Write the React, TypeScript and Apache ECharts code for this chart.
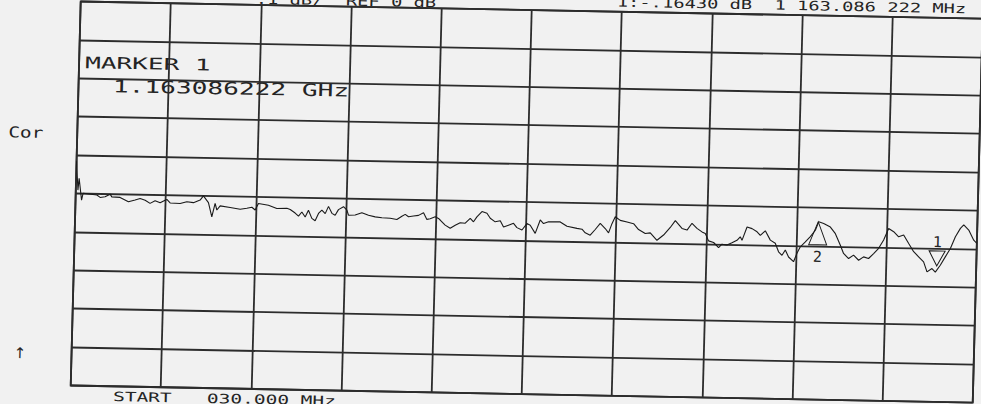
import React, { useEffect, useRef } from "react";
import * as echarts from "echarts";

// Trace: frequency (MHz) and transmission (dB)
const freqMHz = [
  30.0, 32.8, 34.0, 37.9, 39.7, 57.8, 62.2, 68.7, 75.2, 77.5, 88.4, 99.5, 108.2, 114.8, 121.4, 128.0,
  134.5, 141.2, 147.6, 149.9, 154.3, 167.5, 176.2, 184.9, 193.6, 197.8, 204.6, 209.5, 213.4, 215.9,
  220.1, 233.3, 246.5, 255.2, 261.8, 266.2, 270.3, 283.5, 294.6, 307.8, 312.2, 318.8, 323.3, 327.6,
  332.1, 336.2, 340.9, 345.3, 349.5, 353.8, 358.3, 362.4, 367.1, 371.4, 375.6, 382.1, 386.7, 388.9,
  397.7, 406.4, 415.2, 424.0, 432.9, 443.8, 452.6, 459.1, 463.4, 467.8, 474.3, 480.9, 487.4, 492.0,
  496.3, 502.9, 507.2, 509.5, 516.2, 522.9, 529.4, 535.9, 542.5, 548.9, 553.3, 557.6, 564.1, 570.7,
  575.2, 581.8, 588.4, 592.9, 599.4, 605.9, 610.5, 617.2, 623.5, 627.9, 634.7, 640.9, 645.3, 651.9,
  667.2, 676.2, 689.4, 696.0, 700.4, 707.0, 713.4, 719.8, 726.5, 731.0, 735.2, 739.3, 746.0, 754.9,
  763.6, 770.3, 779.2, 785.8, 794.8, 803.3, 811.9, 818.3, 827.3, 834.0, 840.3, 847.0, 853.7, 858.1,
  862.6, 869.3, 876.0, 880.3, 886.9, 893.4, 899.9, 904.1, 906.5, 912.7, 919.3, 926.0, 930.4, 936.8,
  943.7, 950.3, 954.9, 959.5, 963.7, 968.2, 974.9, 979.1, 983.3, 989.7, 996.1, 1002.5, 1006.6, 1013.2,
  1022.1, 1028.9, 1035.8, 1040.3, 1047.1, 1053.5, 1060.3, 1066.7, 1073.3, 1079.8, 1086.2, 1092.5,
  1098.7, 1105.4, 1112.1, 1118.6, 1125.5, 1132.3, 1139.0, 1145.7, 1150.5, 1156.9, 1161.4, 1167.7,
  1174.0, 1180.4, 1186.6, 1192.9, 1197.2, 1203.9, 1210.8, 1215.0,
];
const traceDb = [
  0.084, 0.009, 0.04, -0.017, 0.001, -0.003, -0.009, -0.007, 0.0, -0.007, -0.008, -0.019, -0.014, -0.01,
  -0.014, -0.022, -0.015, -0.02, -0.013, -0.011, -0.02, -0.021, -0.016, -0.018, -0.011, 0.0, -0.017,
  -0.054, -0.019, -0.036, -0.025, -0.029, -0.033, -0.03, -0.027, -0.034, -0.017, -0.021, -0.029, -0.028,
  -0.031, -0.04, -0.048, -0.037, -0.05, -0.032, -0.053, -0.059, -0.04, -0.031, -0.04, -0.021, -0.039,
  -0.044, -0.029, -0.021, -0.03, -0.043, -0.042, -0.036, -0.042, -0.046, -0.048, -0.049, -0.052, -0.043,
  -0.038, -0.044, -0.042, -0.04, -0.033, -0.05, -0.048, -0.043, -0.047, -0.051, -0.064, -0.072, -0.064,
  -0.057, -0.058, -0.045, -0.054, -0.041, -0.027, -0.031, -0.044, -0.053, -0.05, -0.066, -0.061, -0.056,
  -0.067, -0.073, -0.056, -0.06, -0.081, -0.046, -0.055, -0.05, -0.05, -0.061, -0.066, -0.068, -0.077,
  -0.083, -0.068, -0.052, -0.065, -0.076, -0.052, -0.034, -0.043, -0.047, -0.051, -0.066, -0.076, -0.074,
  -0.093, -0.079, -0.059, -0.041, -0.061, -0.065, -0.047, -0.06, -0.069, -0.073, -0.092, -0.096, -0.109,
  -0.1, -0.102, -0.096, -0.089, -0.08, -0.089, -0.054, -0.058, -0.066, -0.075, -0.063, -0.087, -0.095,
  -0.117, -0.126, -0.112, -0.13, -0.142, -0.12, -0.103, -0.09, -0.076, -0.059, -0.037, -0.041, -0.05,
  -0.067, -0.097, -0.118, -0.131, -0.122, -0.135, -0.126, -0.13, -0.117, -0.103, -0.081, -0.051, -0.059,
  -0.072, -0.067, -0.089, -0.11, -0.123, -0.136, -0.162, -0.153, -0.162, -0.144, -0.122, -0.1, -0.069,
  -0.047, -0.038, -0.051, -0.077, -0.085,
];

// Markers
const markerFreq = [1163.086, 1006.0];
const markerDb = [-0.1643, -0.037];
const markerLabels = ["1", "2"];

// Axis scale (no tick labels are printed on the plot)
const freqStart = 30;
const freqStop = 1215;
const dbMin = -0.5;
const dbMax = 0.5;
const dbPerDiv = 0.1;
const xDivisions = 10;

// Annotation texts
const headerLeft = ".1 dB/  REF 0 dB";
const headerRight = "1:-.16430 dB  1 163.086 222 MHz";
const markerTitle = "MARKER 1";
const markerFreqText = "1.163086222 GHz";
const startText = "START   030.000 MHz";
const corText = "Cor";
const arrowText = "\u2191";

const INK = "#242424";
const GRID = "#2c2c2c";
const MONO = '"DejaVu Sans Mono", "Liberation Mono", monospace';

export default function App() {
  const ref = useRef<HTMLDivElement>(null);

  useEffect(() => {
    if (!ref.current) return;
    const chart = echarts.init(ref.current, null, { renderer: "svg" });
    const data = freqMHz.map((f, i) => [f, traceDb[i]]);

    const txt = (
      text: string,
      x: number,
      y: number,
      size: number,
      scaleX: number
    ) => ({
      type: "text",
      x,
      y,
      scaleX,
      originX: 0,
      originY: 0,
      silent: true,
      style: {
        text,
        x: 0,
        y: 0,
        font: `${size}px ${MONO}`,
        fill: INK,
        textAlign: "left",
        textVerticalAlign: "middle",
        verticalAlign: "middle",
      },
    });

    chart.setOption({
      animation: false,
      backgroundColor: "transparent",
      grid: {
        left: 100,
        top: 30,
        width: 902,
        height: 384,
        show: true,
        borderColor: GRID,
        borderWidth: 1.8,
        backgroundColor: "transparent",
      },
      xAxis: [
        {
          type: "value",
          min: freqStart,
          max: freqStop,
          show: false,
        },
        {
          type: "value",
          min: 0,
          max: xDivisions,
          interval: 1,
          axisLine: { show: false },
          axisTick: { show: false },
          axisLabel: { show: false },
          splitLine: { show: true, lineStyle: { color: GRID, width: 1.8 } },
        },
      ],
      yAxis: {
        type: "value",
        min: dbMin,
        max: dbMax,
        interval: dbPerDiv,
        axisLine: { show: false },
        axisTick: { show: false },
        axisLabel: { show: false },
        splitLine: { show: true, lineStyle: { color: GRID, width: 1.8 } },
      },
      series: [
        {
          type: "line",
          xAxisIndex: 0,
          data,
          showSymbol: false,
          symbol: "none",
          clip: true,
          lineStyle: { color: "#1a1a1a", width: 1.1 },
          markPoint: {
            silent: true,
            itemStyle: { color: "rgba(0,0,0,0)", borderColor: "#1a1a1a", borderWidth: 1 },
            label: {
              show: true,
              color: INK,
              fontFamily: MONO,
              fontSize: 15,
            },
            data: [
              {
                coord: [markerFreq[0], markerDb[0]],
                symbol: "path://M0,0 L16,0 L8,14 Z",
                symbolSize: [16, 15],
                symbolOffset: [0, -14.5],
                label: { formatter: markerLabels[0], position: "top", distance: 1 },
              },
              {
                coord: [markerFreq[1], markerDb[1]],
                symbol: "path://M8,0 L16,22 L0,22 Z",
                symbolSize: [18, 23],
                symbolOffset: [0, 11.5],
                label: { formatter: markerLabels[1], position: "bottom", distance: 4 },
              },
            ],
          },
        },
      ],
      graphic: [
        txt(headerLeft, 275, 24.5, 13, 1.44),
        txt(headerRight, 636, 20.5, 13, 1.44),
        txt(markerTitle, 106, 91, 16, 1.63),
        txt(markerFreqText, 134.5, 114.2, 17, 1.54),
        txt(corText, 31, 162, 15, 1.3),
        txt(startText, 142.6, 424.5, 13, 1.5),
        {
          type: "text",
          x: 48.5,
          y: 382.7,
          silent: true,
          style: {
            text: arrowText,
            font: `15px "DejaVu Sans", sans-serif`,
            fill: INK,
            textAlign: "center",
            textVerticalAlign: "middle",
            verticalAlign: "middle",
          },
        },
      ],
    });

    return () => chart.dispose();
  }, []);

  return (
    <div
      style={{
        position: "fixed",
        left: 0,
        top: 0,
        width: 981,
        height: 404,
        overflow: "hidden",
        background: "#f1f1f1",
      }}
    >
      <div
        ref={ref}
        style={{
          position: "absolute",
          left: 0,
          top: 0,
          width: 1030,
          height: 470,
          transformOrigin: "0 0",
          transform: "matrix(1, 0.019, -0.026, 1, -18.52, -30.4)",
        }}
      />
    </div>
  );
}
